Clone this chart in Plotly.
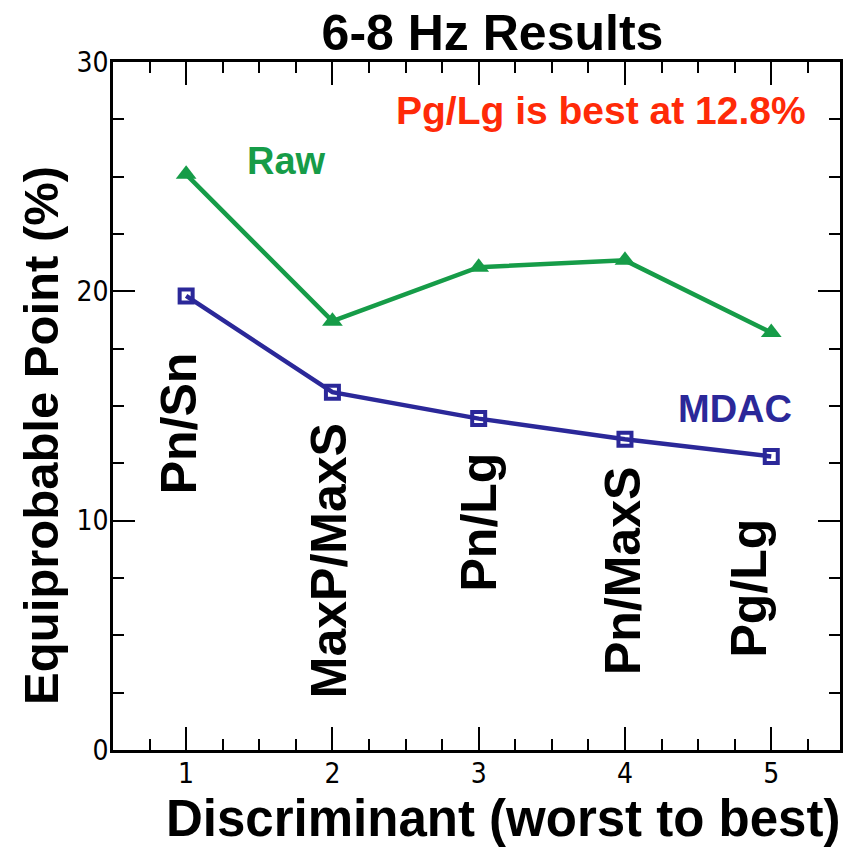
import plotly.graph_objects as go

# data
discriminant = [1, 2, 3, 4, 5]
disc_labels = ["Pn/Sn", "MaxP/MaxS", "Pn/Lg", "Pn/MaxS", "Pg/Lg"]
raw_pct = [25.1, 18.7, 21.05, 21.35, 18.2]
mdac_pct = [19.8, 15.6, 14.45, 13.55, 12.8]

GREEN = "#169c48"
BLUE = "#2b2899"
RED = "#ff2a08"
BOLD = "Liberation Sans, Arial, sans-serif"
NARROW = "Liberation Sans Narrow, DejaVu Sans Condensed, Liberation Sans, sans-serif"

fig = go.Figure()

fig.add_trace(go.Scatter(x=discriminant, y=raw_pct, mode="lines+markers", name="Raw",
                         line=dict(color=GREEN, width=4.5),
                         marker=dict(symbol="triangle-up", size=18, color=GREEN)))
fig.add_trace(go.Scatter(x=discriminant, y=mdac_pct, mode="lines+markers", name="MDAC",
                         line=dict(color=BLUE, width=4.5),
                         marker=dict(symbol="square-open", size=13, color=BLUE,
                                     line=dict(width=4, color=BLUE))))

# rotated discriminant names inside the plot
label_y = [14.25, 8.25, 9.95, 7.8, 7.05]
label_shift = [-7, -4, 0, -2, -22]
for x, name, y, dx in zip(discriminant, disc_labels, label_y, label_shift):
    fig.add_annotation(x=x, y=y, text="<b>%s</b>" % name, showarrow=False, textangle=-90,
                       xshift=dx, font=dict(family=BOLD, size=50, color="black"))

fig.add_annotation(x=1.684, y=25.7, text="<b>Raw</b>", showarrow=False,
                   xanchor="center", yanchor="middle",
                   font=dict(family=BOLD, size=38, color=GREEN))
fig.add_annotation(x=4.755, y=14.85, text="<b>MDAC</b>", showarrow=False,
                   xanchor="center", yanchor="middle",
                   font=dict(family=BOLD, size=38, color=BLUE))
fig.add_annotation(xref="paper", yref="paper", x=0.671, y=0.930,
                   text="<b>Pg/Lg is best at 12.8%</b>", showarrow=False,
                   xanchor="center", yanchor="middle",
                   font=dict(family=BOLD, size=39, color=RED))

# axis titles
fig.add_annotation(xref="paper", yref="paper", x=-0.1, y=0.457,
                   text="<b>Equiprobable Point (%)</b>", showarrow=False, textangle=-90,
                   xanchor="center", yanchor="middle",
                   font=dict(family=BOLD, size=49, color="black"))
fig.add_annotation(xref="paper", yref="paper", x=0.537, y=-0.1,
                   text="<b>Discriminant (worst to best)</b>", showarrow=False,
                   xanchor="center", yanchor="middle",
                   font=dict(family=BOLD, size=51, color="black"))

axis_common = dict(showline=True, linecolor="black", linewidth=2.5, mirror="ticks",
                   ticks="inside", tickcolor="black", tickwidth=2, showgrid=False,
                   zeroline=False, tickfont=dict(family=NARROW, size=28, color="black"))

fig.update_xaxes(range=[0.5, 5.47], tickmode="array", tickvals=discriminant,
                 ticklen=23, ticklabelstandoff=-3,
                 minor=dict(dtick=0.25, ticks="inside", ticklen=11,
                            tickcolor="black", tickwidth=2, showgrid=False),
                 **axis_common)
fig.update_yaxes(range=[0, 30], tickvals=[0, 10, 20, 30], ticklen=22,
                 minor=dict(dtick=2.5, ticks="inside", ticklen=11, tickcolor="black",
                            tickwidth=2, showgrid=False),
                 ticklabelstandoff=-4, **axis_common)

fig.update_layout(
    title=dict(text="<b>6-8 Hz Results</b>", x=0.522, xref="paper", xanchor="center",
               y=1 - 32 / 847, yref="container", yanchor="middle",
               font=dict(family=BOLD, size=50, color="black")),
    width=843, height=847,
    margin=dict(l=113, r=0, t=62, b=97),
    plot_bgcolor="white", paper_bgcolor="white",
    showlegend=False,
)

# drop the browser's default 8px body margin so the figure fills the window
fig.write_html("out.html", config={"displayModeBar": False},
               post_script="document.body.style.margin='0px';")
